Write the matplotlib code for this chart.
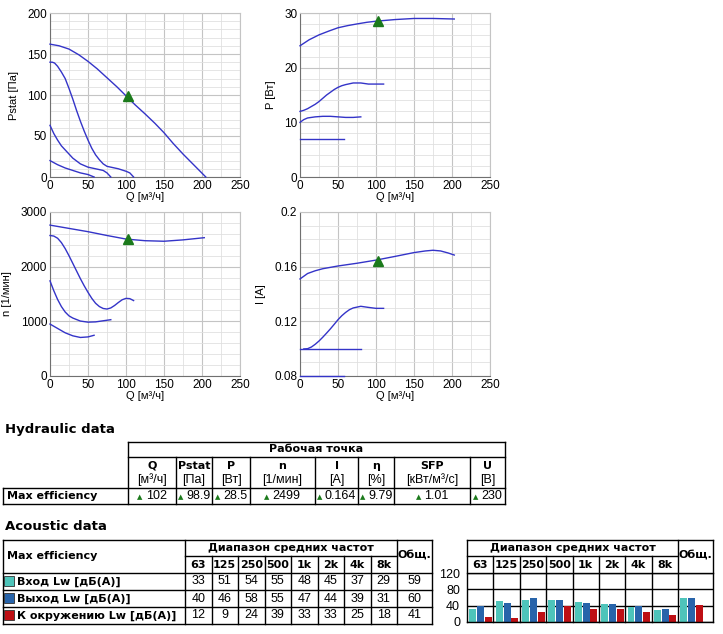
import matplotlib
matplotlib.use("Agg")
import matplotlib.pyplot as plt
from matplotlib.ticker import MultipleLocator
from matplotlib.offsetbox import TextArea, HPacker, AnnotationBbox

# ---- performance curves ----
pstat_curves = [
    ([0, 12, 25, 38, 50, 62, 75, 88, 100, 112, 125, 138, 150, 162, 175, 190, 205],
     [162, 160, 156, 149, 141, 132, 121, 110, 99, 88, 77, 65.5, 54, 41, 28, 14, 0]),
    ([0, 3, 6, 10, 15, 20, 25, 30, 35, 40, 45, 50, 55, 60, 65, 70, 75, 80, 90, 100, 105, 110],
     [140, 140, 139, 135, 128, 120, 108, 95, 81, 68, 56, 45, 35, 27, 21, 16, 13, 12, 10, 7, 5, 0]),
    ([0, 5, 10, 15, 20, 25, 30, 40, 50, 60, 70, 75, 80],
     [63, 53, 45, 38, 33, 28, 23, 16, 12, 10, 8, 5, 0]),
    ([0, 10, 20, 30, 40, 50, 58],
     [20, 15, 11, 8, 5, 3, 0]),
]
power_curves = [
    ([0, 12, 25, 38, 50, 63, 75, 88, 100, 125, 150, 175, 203],
     [24, 25.1, 26.0, 26.7, 27.3, 27.7, 28.0, 28.3, 28.5, 28.8, 29.0, 29.0, 28.9]),
    ([0, 5, 10, 15, 20, 25, 30, 35, 40, 45, 50, 55, 60, 70, 80, 90, 100, 110],
     [12, 12.2, 12.5, 12.9, 13.3, 13.8, 14.4, 15.0, 15.5, 16.0, 16.4, 16.7, 16.9, 17.2, 17.2, 17.0, 17.0, 17.0]),
    ([0, 5, 10, 20, 30, 40, 50, 60, 70, 80],
     [10, 10.5, 10.8, 11.0, 11.1, 11.1, 11.0, 10.9, 10.9, 11.0]),
    ([0, 58], [7, 7]),
]
speed_curves = [
    ([0, 25, 50, 75, 100, 125, 150, 175, 203],
     [2760, 2700, 2640, 2570, 2505, 2475, 2465, 2490, 2530]),
    ([0, 5, 10, 15, 20, 25, 30, 35, 40, 45, 50, 55, 60, 65, 70, 75, 80, 85, 90, 95, 100, 105, 110],
     [2570, 2560, 2520, 2440, 2330, 2200, 2060, 1920, 1780, 1650, 1530, 1420, 1330, 1270, 1235, 1225, 1245, 1290, 1345, 1395, 1420, 1415, 1380]),
    ([0, 5, 10, 15, 20, 25, 30, 40, 50, 60, 70, 80],
     [1740, 1560, 1400, 1270, 1170, 1100, 1060, 1005, 985, 990, 1010, 1030]),
    ([0, 10, 20, 30, 40, 50, 58],
     [950, 870, 790, 735, 705, 715, 745]),
]
current_curves = [
    ([0, 5, 10, 20, 30, 50, 75, 100, 125, 150, 165, 175, 185, 195, 203],
     [0.151, 0.153, 0.155, 0.157, 0.1585, 0.1605, 0.1625, 0.1648, 0.1675, 0.1703, 0.1715, 0.172, 0.1715, 0.170, 0.1685]),
    ([5, 10, 15, 20, 25, 30, 35, 40, 45, 50, 55, 60, 65, 70, 80, 90, 100, 110],
     [0.0998, 0.1, 0.1012, 0.1032, 0.1056, 0.1084, 0.1114, 0.1145, 0.1178, 0.1212, 0.1241, 0.1265, 0.1285, 0.1298, 0.131, 0.1302, 0.1295, 0.1295]),
    ([0, 80], [0.1, 0.1]),
    ([0, 58], [0.08, 0.08]),
]
op_q = 102
op_pstat, op_power, op_speed, op_current = 98.9, 28.5, 2499, 0.164

# ---- hydraulic table ----
hyd_names = ["Q", "Pstat", "P", "n", "I", "η", "SFP", "U"]
hyd_units = ["[м³/ч]", "[Па]", "[Вт]", "[1/мин]", "[А]", "[%]", "[кВт/м³/с]", "[В]"]
hyd_values = ["102", "98.9", "28.5", "2499", "0.164", "9.79", "1.01", "230"]

# ---- acoustic data ----
freq_bands = ["63", "125", "250", "500", "1k", "2k", "4k", "8k"]
row_labels = ["Вход Lw [дБ(А)]", "Выход Lw [дБ(А)]", "К окружению Lw [дБ(А)]"]
lw_inlet = [33, 51, 54, 55, 48, 45, 37, 29]
lw_outlet = [40, 46, 58, 55, 47, 44, 39, 31]
lw_env = [12, 9, 24, 39, 33, 33, 25, 18]
lw_total = [59, 60, 41]
row_colors = ["#4ec4ba", "#2864aa", "#be0f14"]

LINE = "#3434c8"
MARK = "#1b7a1b"
W, H = 723, 634
fig = plt.figure(figsize=(W / 100, H / 100), dpi=100)


def box(l, t, r, b):
    return [l / W, 1 - b / H, (r - l) / W, (b - t) / H]


def perf_axes(rect, curves, op_y, ylim, yticks, yticklabels, yminor, ylabel):
    ax = fig.add_axes(box(*rect))
    for q, y in curves:
        ax.plot(q, y, color=LINE, lw=1.0, clip_on=False, zorder=3)
    ax.plot(op_q, op_y, marker="^", color=MARK, ms=7, zorder=5)
    ax.set_xlim(0, 250)
    ax.set_ylim(*ylim)
    ax.set_xticks(range(0, 251, 50))
    ax.xaxis.set_minor_locator(MultipleLocator(25))
    ax.set_yticks(yticks)
    ax.set_yticklabels(yticklabels)
    ax.yaxis.set_minor_locator(MultipleLocator(yminor))
    ax.grid(which="major", color="#c4c4c4", lw=0.8)
    ax.grid(which="minor", color="#e0e0e0", lw=0.6)
    ax.set_axisbelow(True)
    ax.tick_params(which="both", length=0, labelsize=8.5, pad=2)
    for s in ax.spines.values():
        s.set_color("#c4c4c4")
    ax.spines["left"].set_color("#707070")
    ax.spines["bottom"].set_color("#707070")
    ax.set_xlabel("Q [м³/ч]", fontsize=8, labelpad=0)
    ax.set_ylabel(ylabel, fontsize=8, labelpad=6)
    for t in ax.get_xticklabels() + ax.get_yticklabels():
        t.set_family("Liberation Sans")
    ax.xaxis.label.set_family("Liberation Sans")
    ax.yaxis.label.set_family("Liberation Sans")
    return ax


perf_axes((50, 13, 240, 177), pstat_curves, op_pstat, (0, 200),
          [0, 50, 100, 150, 200], ["0", "50", "100", "150", "200"], 10, "Pstat [Па]")
perf_axes((300, 13, 490, 177), power_curves, op_power, (0, 30),
          [0, 10, 20, 30], ["0", "10", "20", "30"], 2, "P [Вт]")
perf_axes((50, 212, 240, 376), speed_curves, op_speed, (0, 3000),
          [0, 1000, 2000, 3000], ["0", "1000", "2000", "3000"], 200, "n [1/мин]")
perf_axes((300, 212, 490, 376), current_curves, op_current, (0.08, 0.2),
          [0.08, 0.12, 0.16, 0.2], ["0.08", "0.12", "0.16", "0.2"], 0.01, "I [A]")

# ---- acoustic bar chart ----
col_w = [1.0] * 8 + [1.33]
lefts = [sum(col_w[:i]) for i in range(9)]
bx = fig.add_axes(box(467, 573, 713, 622))
series = [lw_inlet + [lw_total[0]], lw_outlet + [lw_total[1]], lw_env + [lw_total[2]]]
offsets = [0.22, 0.52, 0.81]
for vals, off, c in zip(series, offsets, row_colors):
    bx.bar([l + off for l in lefts], vals, width=0.26, color=c, zorder=3)
bx.set_xlim(0, sum(col_w))
bx.set_ylim(0, 120)
bx.set_yticks([0, 40, 80, 120])
bx.set_xticks([])
bx.grid(axis="y", color="black", lw=1)
bx.tick_params(length=0, labelsize=9, pad=5)
for t in bx.get_yticklabels():
    t.set_family("Liberation Sans")
for s in bx.spines.values():
    s.set_visible(False)

# ---- overlay for tables ----
ov = fig.add_axes([0, 0, 1, 1], facecolor="none")
ov.set_xlim(0, W)
ov.set_ylim(H, 0)
ov.axis("off")


def hl(y, x0, x1):
    ov.plot([x0, x1], [y, y], color="black", lw=1)


def vl(x, y0, y1):
    ov.plot([x, x], [y0, y1], color="black", lw=1)


BOLD = dict(fontweight="bold", fontsize=8, va="center")
VAL = dict(fontsize=9, va="center", ha="center", family="Liberation Sans")

# hydraulic
ov.text(5, 430, "Hydraulic data", fontweight="bold", fontsize=9.5, va="center")
hyd_cols = [128, 176, 212, 250, 315, 358, 394, 470, 505]
hl(442, 128, 505)
hl(457, 128, 505)
hl(488, 3, 505)
hl(504, 3, 505)
vl(128, 442, 504)
vl(505, 442, 504)
vl(3, 488, 504)
for x in hyd_cols[1:-1]:
    vl(x, 457, 504)
ov.text((128 + 505) / 2, 449.5, "Рабочая точка", ha="center", **BOLD)
ov.text(7, 496, "Max efficiency", **BOLD)
for i in range(8):
    cx = (hyd_cols[i] + hyd_cols[i + 1]) / 2
    ov.text(cx, 466, hyd_names[i], ha="center", **BOLD)
    ov.text(cx, 480, hyd_units[i], ha="center", fontsize=9, va="center",
            family="Liberation Sans")
    pack = HPacker(children=[TextArea("▲", textprops=dict(color=MARK, fontsize=5)),
                             TextArea(hyd_values[i], textprops=dict(fontsize=9, family="Liberation Sans"))],
                   align="baseline", pad=0, sep=2)
    ov.add_artist(AnnotationBbox(pack, (cx, 496), xycoords="data", frameon=False,
                                 box_alignment=(0.5, 0.5), pad=0))

# acoustic table
ov.text(5, 527, "Acoustic data", fontweight="bold", fontsize=9.5, va="center")
ac_cols = [185 + 26.5 * k for k in range(9)]
rows_y = [540, 556, 573, 590, 607, 624]
hl(540, 3, 432)
hl(556, 185, 397)
for y in rows_y[2:]:
    hl(y, 3, 432)
vl(3, 540, 624)
vl(432, 540, 624)
vl(185, 540, 624)
vl(397, 540, 624)
for x in ac_cols[1:-1]:
    vl(x, 556, 624)
ov.text(7, 556, "Max efficiency", **BOLD)
ov.text((185 + 397) / 2, 548, "Диапазон средних частот", ha="center", **BOLD)
ov.text((397 + 432) / 2, 555, "Общ.", ha="center", **BOLD)
for i, f in enumerate(freq_bands):
    ov.text((ac_cols[i] + ac_cols[i + 1]) / 2, 565, f, ha="center", **BOLD)
for r, (lab, vals, c) in enumerate(zip(row_labels, [lw_inlet, lw_outlet, lw_env], row_colors)):
    cy = (rows_y[r + 2] + rows_y[r + 3]) / 2
    ov.plot(9, cy - 1, marker="s", ms=6.5, color=c, mec="#303030", mew=0.6)
    ov.text(17, cy, lab, **BOLD)
    for i, v in enumerate(vals):
        ov.text((ac_cols[i] + ac_cols[i + 1]) / 2, cy, str(v), **VAL)
    ov.text((397 + 432) / 2, cy, str(lw_total[r]), **VAL)

# bar chart table frame
bc_cols = [467 + 26.375 * k for k in range(9)]
hl(540, 467, 713)
hl(556, 467, 678)
hl(573, 467, 713)
hl(622, 467, 713)
vl(467, 540, 622)
vl(713, 540, 622)
vl(678, 540, 622)
for x in bc_cols[1:-1]:
    vl(x, 556, 622)
ov.text((467 + 678) / 2, 548, "Диапазон средних частот", ha="center", **BOLD)
ov.text((678 + 713) / 2, 555, "Общ.", ha="center", **BOLD)
for i, f in enumerate(freq_bands):
    ov.text((bc_cols[i] + bc_cols[i + 1]) / 2, 565, f, ha="center", **BOLD)

fig.savefig("out.png", dpi=100)
